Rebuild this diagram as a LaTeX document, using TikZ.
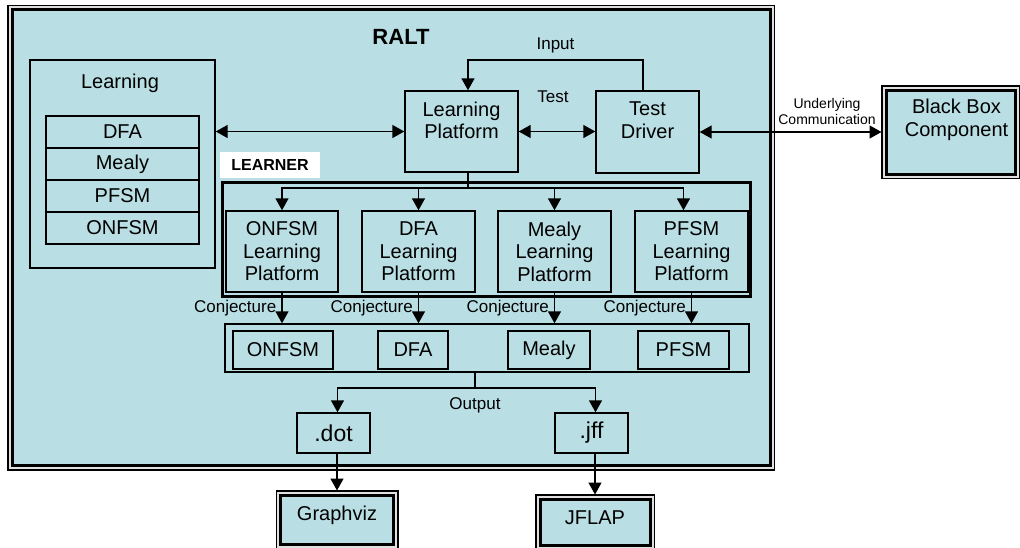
\documentclass[tikz,border=0pt]{standalone}
\usepackage{fontspec}
\setmainfont{Liberation Sans}
\usepackage{tikz}
\usetikzlibrary{positioning}
\usetikzlibrary{arrows.meta}
\definecolor{raltblue}{RGB}{185,223,228}
\tikzset{box/.style={draw,fill=raltblue,line width=1.4pt,inner sep=0pt,align=center},
         cell/.style={box,minimum width=153pt,minimum height=32pt,outer sep=0pt},
         frame box/.style={draw,fill=raltblue,line width=3pt,inner sep=0pt,align=center,
           preaction={draw=black,line width=10pt},preaction={draw=black!12,line width=7pt}},
         lbl/.style={inner sep=0pt,font=\fontsize{17}{19}\selectfont},}

\begin{document}
\begin{tikzpicture}[x=1pt, y=-1pt, >={Triangle[length=12pt,width=13pt]}, line width=1.4pt, font=\fontsize{20}{22.5}\selectfont]
	\useasboundingbox (0,0) rectangle (1020,547);
	\node[frame box, minimum width=758pt, minimum height=456pt] (ralt) at (391,237.5) {};
	\node[font=\bfseries\fontsize{22}{24}\selectfont] (raltname) at (401,37) {RALT};

	\node[box, minimum width=185pt, minimum height=208pt] (learning) at (122.5,164) {};
	\node (learningname) at (120,83) {Learning};
	\node[cell] (ldfa) at (122.5,132) {DFA};
	\node[cell] (lmealy) [below = 0pt of ldfa] {Mealy};
	\node[cell] (lpfsm) [below = 0pt of lmealy] {PFSM};
	\node[cell] (lonfsm) [below = 0pt of lpfsm] {ONFSM};

	\node[box, minimum width=113pt, minimum height=81pt, label={[yshift=11pt,align=center]center:Learning\\Platform}] (lp) at (461.5,131.5) {};
	\node[box, minimum width=103pt, minimum height=82pt, label={[yshift=12pt,align=center]center:Test\\Driver}] (td) at (647.5,132) {};
	\node[frame box, minimum width=129pt, minimum height=84pt, label={[xshift=6pt,yshift=12pt,align=center]center:Black Box\\Component}] (bb) at (950.5,132) {};

	\node[fill=white, minimum width=100pt, minimum height=26pt, inner sep=0pt, font=\bfseries\fontsize{16}{18}\selectfont] (learnername) at (270,165) {LEARNER};
	\node[draw, line width=3pt, minimum width=528pt, minimum height=114pt] (learner) at (486,239) {};
	\node[box, minimum width=112pt, minimum height=81pt] (ponfsm) at (282,251.5) {ONFSM\\Learning\\Platform};
	\node[box, minimum width=113pt, minimum height=81pt] (pdfa) at (418.5,251.5) {DFA\\Learning\\Platform};
	\node[box, minimum width=113pt, minimum height=81pt] (pmealy) at (554.5,251.5) {Mealy\\Learning\\Platform};
	\node[box, minimum width=113pt, minimum height=81pt] (ppfsm) at (691.5,251.5) {PFSM\\Learning\\Platform};

	\node[box, minimum width=524pt, minimum height=48pt] (outs) at (487,348) {};
	\node[box, minimum width=100pt, minimum height=38pt] (oonfsm) at (283,350) {ONFSM};
	\node[box, minimum width=70pt, minimum height=38pt] (odfa) at (413,350) {DFA};
	\node[box, minimum width=82pt, minimum height=38pt] (omealy) at (549,350) {Mealy};
	\node[box, minimum width=91pt, minimum height=38pt] (opfsm) at (683.5,350) {PFSM};

	\node[box, minimum width=73pt, minimum height=40pt, font=\fontsize{23}{25}\selectfont] (dot) at (333.5,433) {.dot};
	\node[box, minimum width=73pt, minimum height=40pt, font=\fontsize{23}{25}\selectfont] (jff) at (591.5,433) {.jff};
	\node[frame box, minimum width=113pt, minimum height=49pt, label={[yshift=4pt]center:Graphviz}] (gv) at (337,519.5) {};
	\node[frame box, minimum width=110pt, minimum height=46pt, label={[yshift=4pt]center:JFLAP}] (jflap) at (595,522) {};

	% input loop and links
	\coordinate (inputr) at (643,60);
	\coordinate (inputl) at (468,60);
	\draw[->] (td.north -| inputr) -- (inputr) -- node[lbl, above=6pt] {Input} (inputl) -- (inputl |- lp.north);
	\node[lbl] (testname) at (553,97) {Test};
	\draw[<->] (learning.east |- lp.west) -- (lp.west);
	\draw[<->] (lp.east) -- (lp.east -| td.west);
	\draw[<->, shorten >=3pt] (td.east) -- (td.east -| bb.west);
	\node[align=center, inner sep=0pt, font=\fontsize{14}{16}\selectfont] (ucomm) at (827,111) {Underlying\\Communication};

	% learner branch
	\coordinate (split) at (468,188);
	\draw (lp.south -| split) -- (split);
	\draw[->] (split) -| (ponfsm.north);
	\draw[->] (split) -| (pdfa.north);
	\draw[->] (split) -| (pmealy.north);
	\draw[->] (split) -| ([xshift=-8pt]ppfsm.north);

	% conjectures
	\draw[->] (ponfsm.south) -- node[lbl, anchor=east, xshift=-5pt] {Conjecture} (ponfsm.south |- outs.north);
	\draw[->] (pdfa.south) -- node[lbl, anchor=east, xshift=-5pt] {Conjecture} (pdfa.south |- outs.north);
	\draw[->] (pmealy.south) -- node[lbl, anchor=east, xshift=-5pt] {Conjecture} (pmealy.south |- outs.north);
	\draw[->] (ppfsm.south) -- node[lbl, anchor=east, xshift=-5pt] {Conjecture} (ppfsm.south |- outs.north);

	% output
	\coordinate (osplit) at (475,388);
	\draw (outs.south -| osplit) -- (osplit) node[lbl, below=9pt] {Output};
	\draw[->] (osplit) -| ([xshift=4pt]dot.north);
	\draw[->] (osplit) -| ([xshift=4pt]jff.north);
	\draw[->, shorten >=3pt] (dot.south -| gv) -- (gv.north);
	\draw[->, shorten >=3pt] (jff.south -| jflap) -- (jflap.north);
\end{tikzpicture}
\end{document}
